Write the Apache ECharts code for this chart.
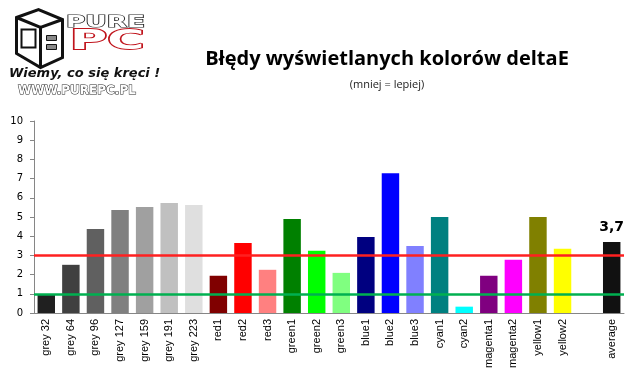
<!DOCTYPE html>
<html><head><meta charset="utf-8">
<script src="https://cdn.jsdelivr.net/npm/echarts@6/dist/echarts.min.js"></script>
<style>html,body{margin:0;padding:0;background:#fff}#c{width:639px;height:379px}</style>
</head><body><div id="c"></div>
<script>
const categories = ['grey 32','grey 64','grey 96','grey 127','grey 159','grey 191','grey 223','red1','red2','red3','green1','green2','green3','blue1','blue2','blue3','cyan1','cyan2','magenta1','magenta2','yellow1','yellow2','','average'];
const values = [0.98,2.51,4.38,5.36,5.52,5.73,5.62,1.94,3.65,2.25,4.90,3.24,2.09,3.96,7.28,3.49,5.0,0.33,1.94,2.77,5.0,3.34,null,3.70];
const barColors = ['#202020','#404040','#606060','#808080','#a0a0a0','#c0c0c0','#dfdfdf','#800000','#ff0000','#ff8080','#008000','#00ff00','#80ff80','#000080','#0000ff','#8080ff','#008080','#00ffff','#800080','#ff00ff','#808000','#ffff00','#ffffff','#111111'];
const yTicks = [0,1,2,3,4,5,6,7,8,9,10];
const refLines = [{value:3,color:'#ff2020'},{value:1,color:'#00b050'}];
const averageLabel = '3,7';
const titleText = 'Błędy wyświetlanych kolorów deltaE';
const subtitleText = '(mniej = lepiej)';

const chart = echarts.init(document.getElementById('c'), null, {renderer:'canvas'});
chart.setOption({
  animation:false,
  backgroundColor:'#fff',
  title:[
    {text:titleText,left:382,top:44,textAlign:'center',textStyle:{fontFamily:'Open Sans',fontWeight:'bold',fontSize:20,color:'#000'}},
    {text:subtitleText,left:382,top:74,textAlign:'center',textStyle:{fontFamily:'Open Sans',fontWeight:'normal',fontSize:11,color:'#222'}}
  ],
  grid:{left:34,right:15,top:121,bottom:66,containLabel:false},
  xAxis:{type:'category',data:categories,
    axisLine:{lineStyle:{color:'#868686',width:1}},
    axisTick:{length:4,lineStyle:{color:'#868686'}},
    axisLabel:{rotate:90,interval:0,margin:6,fontFamily:'Liberation Sans',fontSize:11,color:'#000'}},
  yAxis:{type:'value',min:0,max:10,interval:1,
    axisLine:{show:true,lineStyle:{color:'#868686'}},
    axisTick:{show:true,length:4,lineStyle:{color:'#868686'}},
    splitLine:{show:false},
    axisLabel:{margin:11,fontFamily:'DejaVu Sans',fontSize:10,color:'#000',formatter:v=>yTicks.includes(v)?String(v):''}},
  series:[{
    type:'bar',barCategoryGap:'29%',
    data:values.map((v,i)=>({value:v,itemStyle:{color:barColors[i]},
      label: categories[i]==='average'?{show:true,position:'top',distance:8,formatter:averageLabel,fontFamily:'DejaVu Sans',fontWeight:'bold',fontSize:14,color:'#000'}:{show:false}})),
    markLine:{silent:true,symbol:'none',label:{show:false},z:10,
      data:refLines.map(r=>({yAxis:r.value,lineStyle:{color:r.color,width:2.5,type:'solid'}}))}
  }],
  graphic:[
    {type:'group',left:14,top:8,children:[
      {type:'polygon',shape:{points:[[4,10],[26,2],[50,12],[50,50],[28,60],[4,46]]},style:{fill:'#fff',stroke:'#111',lineWidth:3}},
      {type:'polyline',shape:{points:[[4,10],[28,20],[50,12]]},style:{stroke:'#111',lineWidth:3,fill:null}},
      {type:'polyline',shape:{points:[[28,20],[28,60]]},style:{stroke:'#111',lineWidth:3,fill:null}},
      {type:'rect',shape:{x:9,y:22,width:14,height:18},style:{fill:'#fff',stroke:'#111',lineWidth:2}},
      {type:'rect',shape:{x:34,y:28,width:10,height:5},style:{fill:'#888',stroke:'#111',lineWidth:1}},
      {type:'rect',shape:{x:34,y:37,width:10,height:5},style:{fill:'#888',stroke:'#111',lineWidth:1}}
    ]},
    {type:'text',x:66,y:15,scaleX:1.65,style:{text:'PURE',font:'bold 16px "DejaVu Sans"',fill:'#fff',stroke:'#222',lineWidth:1.2,verticalAlign:'top'}},
    {type:'text',x:70,y:29,scaleX:1.95,style:{text:'PC',font:'bold 26px "DejaVu Sans"',fill:'#fff',stroke:'#c0141c',lineWidth:1.8,verticalAlign:'top'}},
    {type:'text',x:9,y:67,style:{text:'Wiemy, co się kręci !',font:'italic bold 13px "DejaVu Sans"',fill:'#111',verticalAlign:'top'}},
    {type:'text',x:18,y:85,style:{text:'WWW.PUREPC.PL',font:'bold 12px "DejaVu Sans"',fill:'#fff',stroke:'#222',lineWidth:1,verticalAlign:'top'}}
  ]
});
</script></body></html>
